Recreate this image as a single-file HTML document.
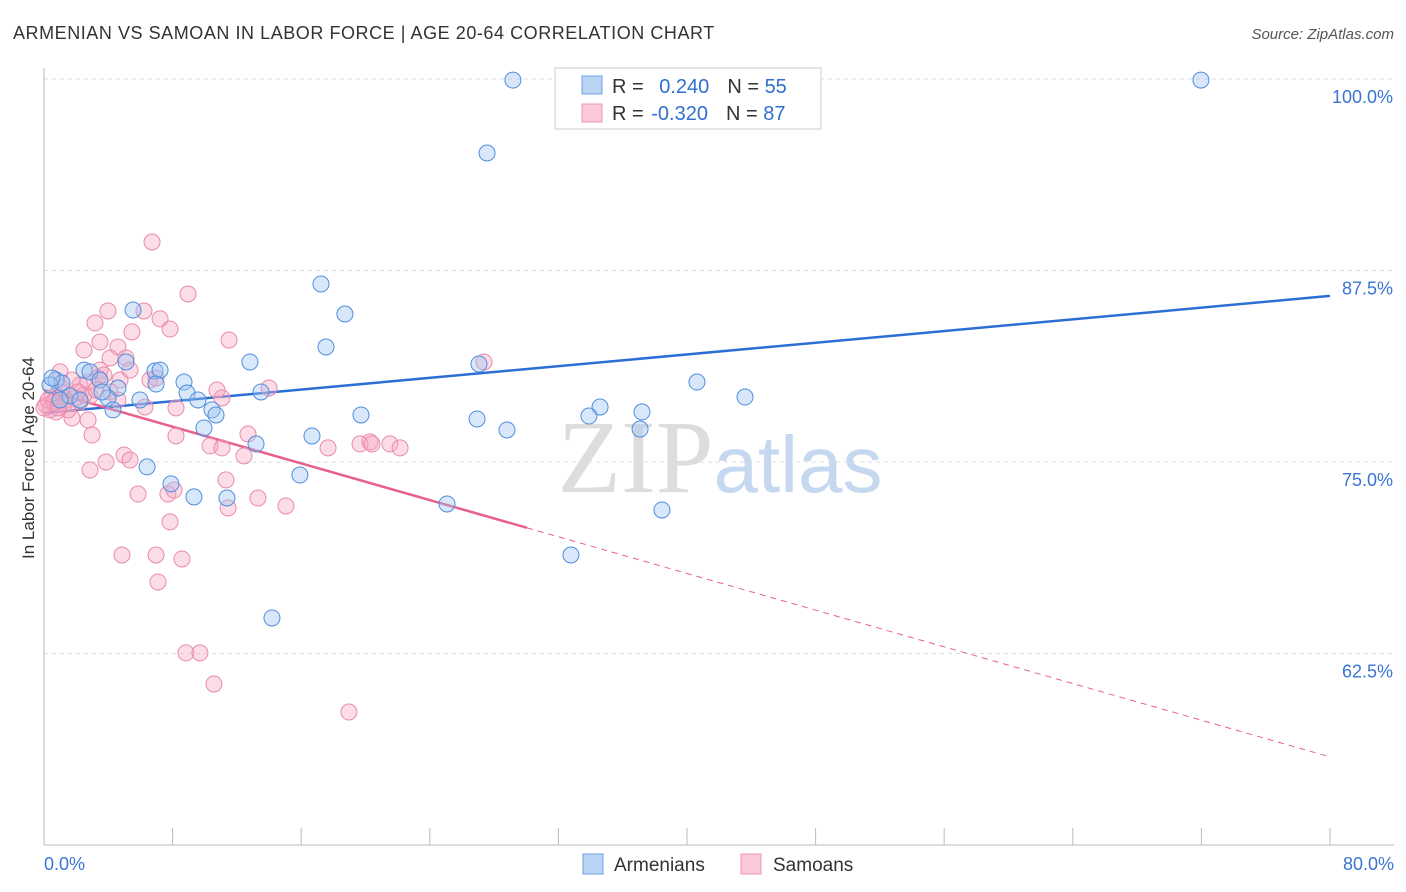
<!DOCTYPE html>
<html><head><meta charset="utf-8"><style>
body{margin:0;background:#fff;font-family:"Liberation Sans",sans-serif}
svg{display:block}
</style></head><body>
<svg id="chart" width="1406" height="892" xmlns="http://www.w3.org/2000/svg" font-family="Liberation Sans, sans-serif">
<text x="13" y="39" font-size="18" fill="#333" letter-spacing="0.55">ARMENIAN VS SAMOAN IN LABOR FORCE | AGE 20-64 CORRELATION CHART</text>
<text x="1394" y="39" font-size="15" fill="#555" text-anchor="end" font-style="italic">Source: ZipAtlas.com</text>
<text x="720" y="492" font-size="104" text-anchor="middle"><tspan fill="#ddd" font-family="Liberation Serif, serif">ZIP</tspan><tspan fill="#c5d8ef" font-size="80">atlas</tspan></text>
<g id="grid"></g>
<g id="axes"></g>
<g id="trends"></g>
<g id="points"></g>
<text transform="translate(34,458) rotate(-90)" font-size="17" fill="#333" text-anchor="middle">In Labor Force | Age 20-64</text>
<g>
<rect x="555" y="68" width="266" height="61" fill="#fff" stroke="#ccc"/>
<rect x="582" y="76" width="20" height="18" fill="#b9d3f4" stroke="#6a9fe0"/>
<rect x="582" y="104" width="20" height="18" fill="#fbc9d8" stroke="#ec94b2"/>
<text x="612" y="93" font-size="20" fill="#333">R = <tspan fill="#2f6fd1" dx="10">0.240</tspan><tspan fill="#333" dx="18">N = </tspan><tspan fill="#2f6fd1">55</tspan></text>
<text x="612" y="120" font-size="20" fill="#333">R = <tspan fill="#2f6fd1" dx="2">-0.320</tspan><tspan fill="#333" dx="18">N = </tspan><tspan fill="#2f6fd1">87</tspan></text>
</g>
<g>
<rect x="583" y="854" width="20" height="20" fill="#b9d3f4" stroke="#6a9fe0"/>
<text x="614" y="871" font-size="19" fill="#333">Armenians</text>
<rect x="741" y="854" width="20" height="20" fill="#fbc9d8" stroke="#ec94b2"/>
<text x="773" y="871" font-size="19" fill="#333">Samoans</text>
</g>
</svg>
<script>
const yTicks=[100,87.5,75,62.5];
const yTickLabels=["100.0%","87.5%","75.0%","62.5%"];
const xTickLabels=["0.0%","80.0%"];
const armX=[29.17,71.97,27.56,17.23,18.72,5.54,17.54,12.81,27.06,6.90,7.22,40.62,43.61,8.71,6.97,4.60,8.90,9.58,13.5,10.45,10.7,34.59,33.9,37.2,19.72,26.94,28.8,37.08,9.95,16.67,13.19,6.41,15.92,7.9,9.33,11.38,25.07,38.44,32.78,14.18,2.49,2.86,0.75,1.12,0.37,3.48,3.98,5.97,4.29,5.1,1.62,1.0,2.24,0.5,3.61];
const armY=[99.93,99.93,95.17,86.62,84.66,84.92,82.51,81.53,81.40,80.94,81.0,80.22,79.24,80.22,80.09,79.83,79.5,79.05,79.57,78.4,78.07,78.59,78.0,78.27,78.07,77.81,77.09,77.15,77.22,76.7,76.18,74.68,74.15,73.57,72.72,72.65,72.26,71.87,68.93,64.82,81.0,80.88,80.35,80.16,80.03,80.35,79.18,79.05,78.4,81.53,79.31,79.05,79.05,80.48,79.57];
const samX=[6.72,8.96,3.98,6.22,7.22,3.17,5.47,7.84,11.51,3.48,4.6,2.49,5.1,4.11,1.0,3.48,27.37,3.36,2.24,2.74,1.74,6.59,6.97,10.76,14.0,1.0,0.5,1.24,2.24,2.86,4.11,4.6,6.28,8.21,11.07,0.75,1.74,2.74,2.99,8.21,12.69,10.33,11.07,17.67,19.66,20.28,20.4,21.52,22.15,4.98,5.35,3.86,2.86,12.44,11.32,5.85,7.71,8.09,11.45,13.31,15.05,7.84,4.85,6.97,8.58,7.09,8.83,9.7,10.57,18.97,0.12,0.37,0.75,1.37,1.99,0.25,1.12,2.49,3.23,3.73,0.62,1.49,0,0.87,2.11,4.73,5.35];
const samY=[89.36,85.97,84.86,84.86,84.34,84.07,83.49,83.68,82.96,82.83,82.51,82.31,81.79,81.79,80.88,81.0,81.53,80.48,80.03,80.22,80.35,80.35,80.48,79.7,79.83,79.57,79.18,78.72,78.92,79.31,79.57,79.05,78.59,78.53,79.18,78.27,77.87,77.74,76.76,76.7,76.83,76.05,75.92,75.92,76.18,76.31,76.18,76.18,75.92,75.46,75.13,75.0,74.48,75.4,73.83,72.91,72.91,73.17,72.0,72.65,72.13,71.09,68.93,68.93,68.67,67.17,62.54,62.54,60.51,58.68,78.72,78.4,79.37,79.05,79.18,79.05,79.83,79.37,79.7,80.68,78.92,78.4,78.53,78.53,79.57,80.35,81.0];
const armTrend=[78.2,85.84];
const samTrend=[79.7,55.75];
const samSolidEnd=30.05;

const NS="http://www.w3.org/2000/svg";
const X=v=>44+v*(1286/80);
const Y=v=>79+(100-v)*15.32;
function mk(tag,attrs,parent){const e=document.createElementNS(NS,tag);for(const k in attrs)e.setAttribute(k,attrs[k]);parent.appendChild(e);return e;}
const grid=document.getElementById('grid'),axes=document.getElementById('axes'),trends=document.getElementById('trends'),pts=document.getElementById('points');
yTicks.forEach((t,i)=>{
 const l=mk('line',{x1:44,x2:1394,y1:Y(t),y2:Y(t),stroke:'#ddd','stroke-dasharray':'4,4'},grid);
 
 
 const tx=mk('text',{x:1393,y:Y(t)+24,'font-size':18,fill:'#3a74d4','text-anchor':'end'},grid);
 tx.textContent=yTickLabels[i];
 
 
});
mk('line',{x1:44,x2:44,y1:68,y2:845,stroke:'#bbb'},axes);
mk('line',{x1:44,x2:1394,y1:845,y2:845,stroke:'#bbb'},axes);
for(let i=0;i<=10;i++){mk('line',{x1:X(i*8),x2:X(i*8),y1:828,y2:845,stroke:'#bbb'},axes);}
[[0,'start',44],[80,'end',1394]].forEach((d,i)=>{
 const t=mk('text',{x:d[2],y:870,'font-size':18,fill:'#3a74d4','text-anchor':d[1]},axes);
 t.textContent=xTickLabels[i];
 
 
});
function dot(x,y,fill,stroke,name){
 const c=mk('circle',{cx:X(x),cy:Y(y),r:8,fill:fill,'fill-opacity':0.4,stroke:stroke,'stroke-width':1},pts);
 
 
}
samX.forEach((x,i)=>dot(x,samY[i],'#f7a8c2','#e98aab','samoan-point'));
armX.forEach((x,i)=>dot(x,armY[i],'#9ec3f0','#4f8ede','armenian-point'));
const bl=mk('line',{x1:X(0),y1:Y(armTrend[0]),x2:X(80),y2:Y(armTrend[1]),stroke:'#2b6fd6','stroke-width':2.5},trends);


const sy=v=>samTrend[0]+(samTrend[1]-samTrend[0])*v/80;
const pl=mk('line',{x1:X(0),y1:Y(sy(0)),x2:X(samSolidEnd),y2:Y(sy(samSolidEnd)),stroke:'#e8608d','stroke-width':2.5},trends);


const pd=mk('line',{x1:X(samSolidEnd),y1:Y(sy(samSolidEnd)),x2:X(80),y2:Y(sy(80)),stroke:'#e8608d','stroke-width':1,'stroke-dasharray':'6,5'},trends);


</script>
</body></html>
